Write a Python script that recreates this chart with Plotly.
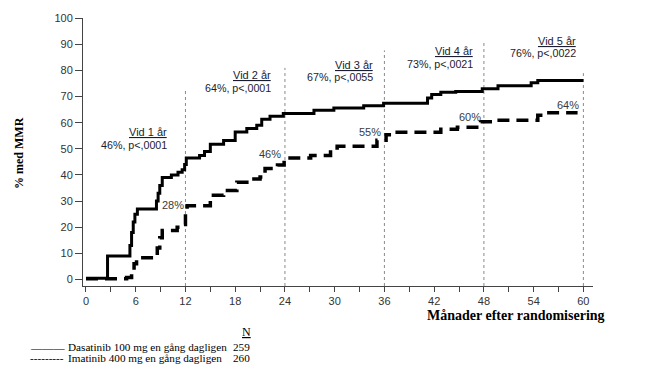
import plotly.graph_objects as go

# ---- data ----
dasatinib_months = [0, 2.6, 5.3, 5.5, 5.7, 5.9, 6.2, 8.5, 8.7, 8.9, 9.2, 10.3, 11.1, 11.6, 11.9, 12.1,
                    13.7, 14.3, 15.0, 16.6, 18.0, 19.4, 20.6, 21.2, 22.2, 23.8, 27.5, 29.9, 33.5,
                    35.9, 41.2, 41.7, 42.8, 44.6, 47.8, 49.7, 53.7, 54.5, 60]
dasatinib_pct = [0.5, 9, 13, 18, 22, 25, 27, 30, 33, 36, 39, 40, 41, 42, 44, 46.5,
                 47.5, 49, 51.8, 53.2, 56.5, 57.8, 59, 61.3, 62.5, 63.5, 64.8, 65.6, 66.5,
                 67.5, 69.5, 70.8, 71.7, 72.0, 73.0, 74.2, 75.3, 76.2, 76.2]

imatinib_months = [0, 4.9, 5.5, 5.8, 6.1, 8.3, 8.6, 8.9, 9.2, 11.0, 11.6, 12.0, 12.2, 15.0, 16.6,
                   18.2, 19.8, 21.0, 21.6, 23.1, 23.9, 27.1, 29.5, 30.3, 35.1, 36.2, 36.8, 42.8,
                   44.8, 47.6, 49.2, 54.5, 55.3, 59.3]
imatinib_pct = [0.3, 0.8, 2, 6, 8.3, 9, 12, 16, 18.7, 20, 21, 25, 28.2, 32.2, 34.1,
                37.2, 38.5, 39.2, 42.5, 43.8, 46.5, 47.5, 50.3, 51.0, 53.3, 55.4, 56.4, 57.5,
                58.3, 60.4, 61.0, 62.9, 63.8, 63.8]

year_months = [12, 24, 36, 48, 60]
year_titles = ["Vid 1 år", "Vid 2 år", "Vid 3 år", "Vid 4 år", "Vid 5 år"]
year_stats = ["46%, p<,0001", "64%, p<,0001", "67%, p<,0055", "73%, p<,0021", "76%, p<,0022"]
imatinib_labels = ["28%", "46%", "55%", "60%", "64%"]

x_tickvals = list(range(0, 61, 3))
x_ticktext = [str(v) if v % 6 == 0 else "" for v in x_tickvals]
y_tickvals = list(range(0, 101, 10))

legend_names = ["Dasatinib 100 mg en gång dagligen", "Imatinib 400 mg en gång dagligen"]
legend_n = ["259", "260"]

# ---- layout helpers (positions) ----
vline_tops = [72.7, 81, 87.7, 91.5, 79]
title_pos = [(10.0, 56.6, 51.6), (22.6, 78.4, 73.3), (34.9, 82.1, 77.4), (46.9, 87.3, 82.6), (59.3, 91.2, 86.6)]
imat_label_pos = [(10.5, 28.5), (22.2, 48.0), (34.3, 56.6), (46.3, 62.2), (58.1, 66.7)]

OFF = 8  # page body margin
W, H = 660 - OFF, 376 - OFF
L, R, T, B = 83 - OFF, 67, 12 - OFF, 90
pw, ph = W - L - R, H - T - B
def px(xp):
    return (xp - OFF - L) / pw
def py(yp):
    return (H - B - (yp - OFF)) / ph

fig = go.Figure()
fig.add_trace(go.Scatter(x=dasatinib_months, y=dasatinib_pct, mode="lines",
                         line=dict(shape="hv", color="black", width=3), showlegend=False))
fig.add_trace(go.Scatter(x=imatinib_months, y=imatinib_pct, mode="lines",
                         line=dict(shape="hv", color="black", width=3.5, dash="12px,7px"),
                         showlegend=False))

for xm, top in zip(year_months, vline_tops):
    fig.add_shape(type="line", x0=xm, x1=xm, y0=-2.5, y1=top, xref="x", yref="y",
                  line=dict(color="#8a8a8a", width=1, dash="dot"), layer="below")

txt_col = "#1c1c30"
for (xr, y1, y2), t, s in zip(title_pos, year_titles, year_stats):
    fig.add_annotation(x=xr, y=y1, text="<u>" + t + "</u>", showarrow=False, xanchor="right",
                       yanchor="middle", font=dict(family="Liberation Sans", size=11, color=txt_col))
    fig.add_annotation(x=xr, y=y2, text=s, showarrow=False, xanchor="right",
                       yanchor="middle", font=dict(family="Liberation Sans", size=10.7, color=txt_col))

for (xc, yc), t in zip(imat_label_pos, imatinib_labels):
    fig.add_annotation(x=xc, y=yc, text=t, showarrow=False, xanchor="center", yanchor="middle",
                       font=dict(family="Liberation Sans", size=11, color="#3a3a3a"))

# axis titles
fig.add_annotation(xref="paper", yref="paper", x=px(19), y=py(150), text="<b>% med MMR</b>",
                   textangle=-90, showarrow=False, xanchor="center", yanchor="middle",
                   font=dict(family="Liberation Serif", size=12, color="black"))
fig.add_annotation(xref="paper", yref="paper", x=px(607), y=py(316), text="<b>Månader efter randomisering</b>",
                   showarrow=False, xanchor="right", yanchor="middle",
                   font=dict(family="Liberation Serif", size=14, color="black"))

serif = dict(family="Liberation Serif", size=11.2, color="black")
fig.add_annotation(xref="paper", yref="paper", x=px(246.5), y=py(333), text="<u>N</u>",
                   showarrow=False, xanchor="center", yanchor="middle",
                   font=dict(family="Liberation Serif", size=12, color="black"))
prefixes = ["______", "---------"]
row_y = [348, 360]
pre_y = [345, 360]
for pre, name, n, yr, yp in zip(prefixes, legend_names, legend_n, row_y, pre_y):
    fig.add_annotation(xref="paper", yref="paper", x=px(28), y=py(yp), text=pre,
                       showarrow=False, xanchor="left", yanchor="middle", font=serif)
    fig.add_annotation(xref="paper", yref="paper", x=px(66), y=py(yr), text=name,
                       showarrow=False, xanchor="left", yanchor="middle", font=serif)
    fig.add_annotation(xref="paper", yref="paper", x=px(252), y=py(yr), text=n,
                       showarrow=False, xanchor="right", yanchor="middle", font=serif)

fig.update_layout(
    width=W, height=H, autosize=False,
    margin=dict(l=L, r=R, t=T, b=B, pad=0),
    paper_bgcolor="white", plot_bgcolor="white",
    xaxis=dict(range=[-0.36, 61.16], tickvals=x_tickvals, ticktext=x_ticktext,
               showgrid=False, zeroline=False, showline=True, linecolor="#444", linewidth=1,
               ticks="outside", ticklen=5, tickcolor="#444", ticklabeloverflow="allow",
               tickfont=dict(family="Liberation Sans", size=11, color="#333")),
    yaxis=dict(range=[-2.5, 100.1], tickvals=y_tickvals,
               showgrid=False, zeroline=False, showline=True, linecolor="#444", linewidth=1,
               ticks="outside", ticklen=7, tickcolor="#444", ticklabeloverflow="allow",
               tickfont=dict(family="Liberation Sans", size=11, color="#333")),
)

fig.write_html("out.html")
